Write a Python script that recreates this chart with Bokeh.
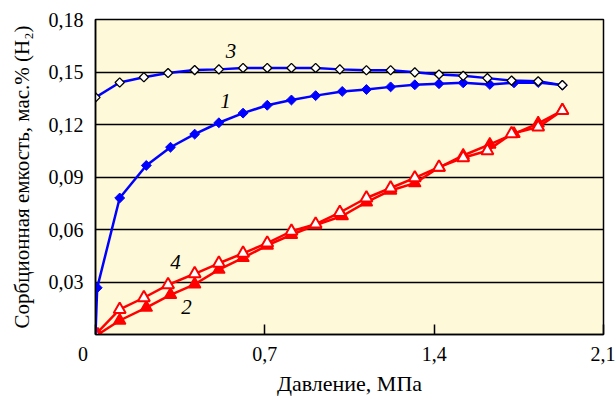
from bokeh.plotting import figure
from bokeh.models import Range1d, FixedTicker, Label
from bokeh.embed import file_html
from bokeh.resources import INLINE
import numpy as np

# ---- data ----
x1 = [0.0, 0.007, 0.10, 0.21, 0.31, 0.41, 0.51, 0.61, 0.71, 0.81, 0.91, 1.02, 1.12, 1.22, 1.32, 1.42, 1.52, 1.63, 1.73, 1.83, 1.93]
y1 = [0.0, 0.0267, 0.078, 0.0966, 0.107, 0.1145, 0.121, 0.1265, 0.131, 0.134, 0.1365, 0.1389, 0.140, 0.1415, 0.1427, 0.1433, 0.1438, 0.1429, 0.1438, 0.144, 0.1425]

x3 = [0.0, 0.10, 0.20, 0.30, 0.41, 0.51, 0.61, 0.71, 0.81, 0.91, 1.01, 1.12, 1.22, 1.32, 1.42, 1.52, 1.62, 1.72, 1.83, 1.93]
y3 = [0.1355, 0.144, 0.147, 0.1494, 0.1511, 0.1515, 0.1523, 0.1523, 0.1523, 0.1523, 0.1515, 0.151, 0.151, 0.1498, 0.1486, 0.1478, 0.1465, 0.1451, 0.1447, 0.1425]

x2 = [0.01, 0.10, 0.21, 0.31, 0.41, 0.51, 0.61, 0.71, 0.81, 0.91, 1.02, 1.12, 1.22, 1.32, 1.42, 1.52, 1.63, 1.73, 1.83, 1.93]
y2 = [0.0, 0.008, 0.0154, 0.0227, 0.0287, 0.0371, 0.0438, 0.0509, 0.057, 0.0625, 0.0677, 0.0756, 0.0823, 0.0865, 0.0954, 0.1023, 0.1086, 0.1147, 0.1207, 0.128]

x4 = [0.0, 0.10, 0.20, 0.30, 0.41, 0.51, 0.61, 0.71, 0.81, 0.91, 1.01, 1.12, 1.22, 1.32, 1.42, 1.52, 1.62, 1.72, 1.83, 1.93]
y4 = [0.0, 0.0143, 0.021, 0.0284, 0.0347, 0.0407, 0.0464, 0.0522, 0.059, 0.0631, 0.0697, 0.078, 0.0837, 0.0895, 0.0956, 0.101, 0.105, 0.1147, 0.1185, 0.128]

x_ticks = [0.0, 0.7, 1.4, 2.1]
x_tick_labels = {0.0: "0" + "\u00a0" * 5, 0.7: "0,7", 1.4: "1,4", 2.1: "2,1"}
y_ticks = [0.03, 0.06, 0.09, 0.12, 0.15, 0.18]
y_tick_labels = {0.03: "0,03", 0.06: "0,06", 0.09: "0,09", 0.12: "0,12", 0.15: "0,15", 0.18: "0,18"}

curve_names = ["3", "1", "4", "2"]
curve_name_x = [0.56, 0.537, 0.331, 0.376]
curve_name_y = [0.1619, 0.1337, 0.0417, 0.0156]

FONT = "Liberation Serif"

p = figure(width=615, height=399, output_backend="svg", toolbar_location=None,
           x_range=Range1d(0, 2.1), y_range=Range1d(0, 0.18),
           min_border_left=95, min_border_right=12, min_border_top=19, min_border_bottom=65)
p.background_fill_color = "#FEF9D8"
p.border_fill_color = "white"
p.outline_line_color = "black"
p.outline_line_width = 1.5

p.xgrid.visible = False
p.ygrid.ticker = FixedTicker(ticks=y_ticks)
p.ygrid.grid_line_color = "black"
p.ygrid.grid_line_width = 1.3

p.xaxis.ticker = FixedTicker(ticks=x_ticks)
p.xaxis.major_label_overrides = x_tick_labels
p.yaxis.ticker = FixedTicker(ticks=y_ticks)
p.yaxis.major_label_overrides = y_tick_labels

p.axis.axis_line_color = "black"
p.axis.axis_line_width = 1.5
p.axis.minor_tick_line_color = None
p.axis.major_label_text_font = FONT
p.axis.major_label_text_font_size = "20px"
p.axis.major_label_text_color = "black"
p.axis.axis_label_text_font = FONT
p.axis.axis_label_text_font_style = "normal"
p.axis.axis_label_text_color = "black"

p.xaxis.major_tick_in = 10
p.xaxis.major_tick_out = 0
p.xaxis.major_tick_line_width = 1.5
p.xaxis.major_tick_line_color = "black"
p.xaxis.major_label_standoff = 8
p.xaxis.axis_label = "Давление, МПа"
p.xaxis.axis_label_text_font_size = "22px"
p.xaxis.axis_label_standoff = 3

p.yaxis.major_tick_in = 0
p.yaxis.major_tick_out = 0
p.yaxis.major_label_standoff = 12
p.yaxis.axis_label = "Сорбционная емкость, мас.% (H₂)"
p.yaxis.axis_label_text_font_size = "21px"
p.yaxis.axis_label_standoff = 12

# series 2 (filled red triangles)
p.line(x2, y2, line_color="red", line_width=2.5)
p.scatter(x2, y2, marker="triangle", size=12, fill_color="red", line_color="red", line_width=1.5)
# series 4 (open red triangles)
p.line(x4, y4, line_color="red", line_width=2.5)
p.scatter(x4, y4, marker="triangle", size=12, fill_color="white", line_color="red", line_width=2)
# series 1 (filled blue diamonds)
p.line(x1, y1, line_color="blue", line_width=2.5)
p.scatter(x1[1:], y1[1:], marker="square", angle=np.pi / 4, size=7, fill_color="blue", line_color="blue", line_width=1)
# series 3 (open diamonds)
p.line(x3, y3, line_color="blue", line_width=2.5)
p.scatter(x3, y3, marker="square", angle=np.pi / 4, size=6.5, fill_color="white", line_color="black", line_width=1.3)

# curve labels
for txt, xx, yy in zip(curve_names, curve_name_x, curve_name_y):
    p.add_layout(Label(x=xx, y=yy, text=txt, text_font=FONT, text_font_size="21px",
                       text_font_style="italic", text_align="center", text_baseline="middle",
                       text_color="black"))

open("out.html", "w").write(file_html(p, INLINE))
